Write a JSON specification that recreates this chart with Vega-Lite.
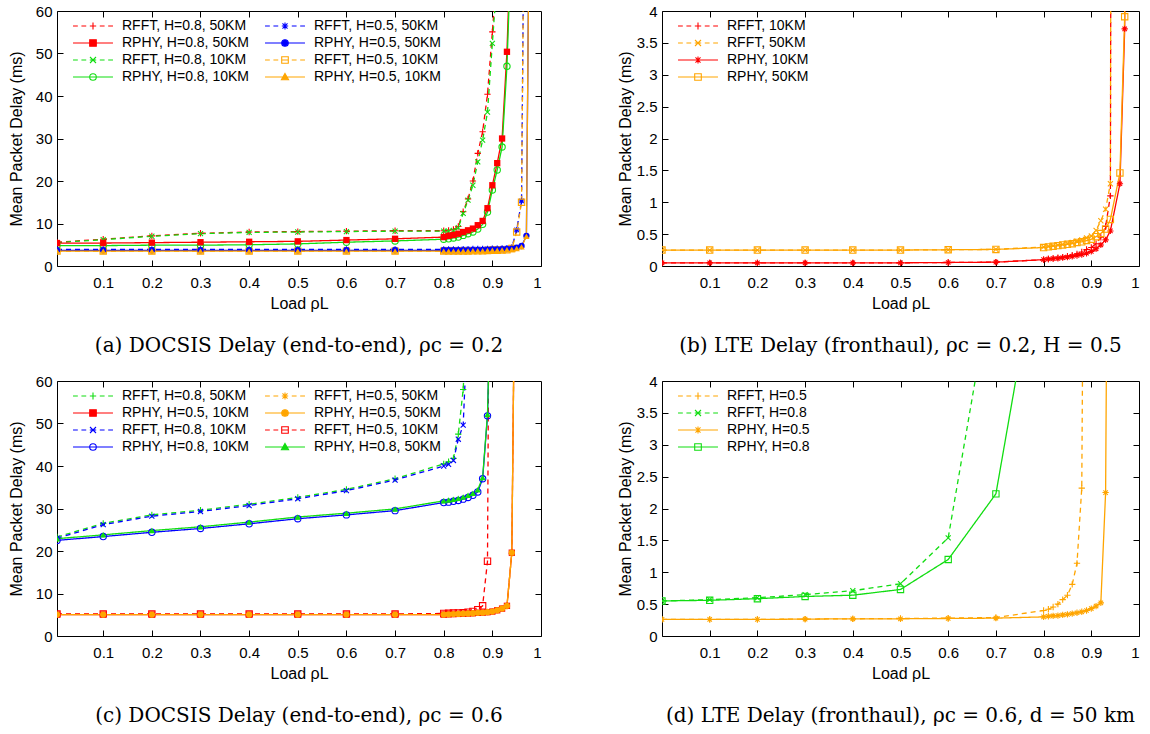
{
"$schema": "https://vega.github.io/schema/vega-lite/v6.json",
"background": "white",
"padding": {"left": 7, "top": 3, "right": 5, "bottom": 5},
"columns": 2,
"spacing": {"row": 115, "column": 121},
"bounds": "flush",
"resolve": {"scale": {"color": "independent", "shape": "independent", "strokeDash": "independent", "stroke": "independent", "fill": "independent"}, "legend": {"color": "independent", "shape": "independent", "strokeDash": "independent", "stroke": "independent", "fill": "independent"}},
"config": {
  "view": {"stroke": "#000000", "strokeWidth": 1},
  "axis": {"grid": false, "domain": false, "ticks": true, "tickColor": "#000000", "tickSize": -6, "tickWidth": 1, "labelFont": "Liberation Sans", "labelFontSize": 15, "labelColor": "#000000", "titleFont": "Liberation Sans", "titleFontSize": 16, "titleFontWeight": "normal", "titleColor": "#000000"},
  "axisX": {"titlePadding": 5, "labelPadding": 15},
  "axisY": {"titlePadding": 11, "labelPadding": 11},
  "title": {"font": "DejaVu Serif", "fontSize": 20, "fontWeight": "normal", "color": "#000000", "orient": "bottom", "anchor": "middle", "frame": "group", "offset": 25},
  "legend": {"labelFont": "Liberation Sans", "labelFontSize": 14, "labelColor": "#000000", "symbolOpacity": 1},
  "point": {"size": 40, "strokeWidth": 1.1, "opacity": 1},
  "line": {"strokeWidth": 1.3}
},
"datasets": {
"A": [
{"s":"RFFT, H=0.8, 50KM","x":0.005,"y":5.6},{"s":"RFFT, H=0.8, 50KM","x":0.1,"y":6.3},{"s":"RFFT, H=0.8, 50KM","x":0.2,"y":7.1},{"s":"RFFT, H=0.8, 50KM","x":0.3,"y":7.7},{"s":"RFFT, H=0.8, 50KM","x":0.4,"y":8.0},{"s":"RFFT, H=0.8, 50KM","x":0.5,"y":8.1},{"s":"RFFT, H=0.8, 50KM","x":0.6,"y":8.2},{"s":"RFFT, H=0.8, 50KM","x":0.7,"y":8.3},{"s":"RFFT, H=0.8, 50KM","x":0.8,"y":8.3},{"s":"RFFT, H=0.8, 50KM","x":0.81,"y":8.4},{"s":"RFFT, H=0.8, 50KM","x":0.82,"y":8.6},{"s":"RFFT, H=0.8, 50KM","x":0.83,"y":9.3},{"s":"RFFT, H=0.8, 50KM","x":0.84,"y":12.8},{"s":"RFFT, H=0.8, 50KM","x":0.85,"y":15.8},{"s":"RFFT, H=0.8, 50KM","x":0.86,"y":20.0},{"s":"RFFT, H=0.8, 50KM","x":0.87,"y":26.5},{"s":"RFFT, H=0.8, 50KM","x":0.88,"y":31.6},{"s":"RFFT, H=0.8, 50KM","x":0.89,"y":40.4},{"s":"RFFT, H=0.8, 50KM","x":0.9,"y":55.1},{"s":"RFFT, H=0.8, 50KM","x":0.91,"y":70},
{"s":"RFFT, H=0.8, 10KM","x":0.005,"y":5.5},{"s":"RFFT, H=0.8, 10KM","x":0.1,"y":6.2},{"s":"RFFT, H=0.8, 10KM","x":0.2,"y":7.0},{"s":"RFFT, H=0.8, 10KM","x":0.3,"y":7.6},{"s":"RFFT, H=0.8, 10KM","x":0.4,"y":7.9},{"s":"RFFT, H=0.8, 10KM","x":0.5,"y":8.0},{"s":"RFFT, H=0.8, 10KM","x":0.6,"y":8.1},{"s":"RFFT, H=0.8, 10KM","x":0.7,"y":8.2},{"s":"RFFT, H=0.8, 10KM","x":0.8,"y":8.2},{"s":"RFFT, H=0.8, 10KM","x":0.81,"y":8.2},{"s":"RFFT, H=0.8, 10KM","x":0.82,"y":8.4},{"s":"RFFT, H=0.8, 10KM","x":0.83,"y":9.0},{"s":"RFFT, H=0.8, 10KM","x":0.84,"y":12.4},{"s":"RFFT, H=0.8, 10KM","x":0.85,"y":15.5},{"s":"RFFT, H=0.8, 10KM","x":0.86,"y":19.0},{"s":"RFFT, H=0.8, 10KM","x":0.87,"y":24.5},{"s":"RFFT, H=0.8, 10KM","x":0.88,"y":29.6},{"s":"RFFT, H=0.8, 10KM","x":0.89,"y":36.2},{"s":"RFFT, H=0.8, 10KM","x":0.9,"y":52.4},{"s":"RFFT, H=0.8, 10KM","x":0.91,"y":68},
{"s":"RFFT, H=0.5, 50KM","x":0.005,"y":3.9},{"s":"RFFT, H=0.5, 50KM","x":0.1,"y":3.9},{"s":"RFFT, H=0.5, 50KM","x":0.2,"y":3.9},{"s":"RFFT, H=0.5, 50KM","x":0.3,"y":3.9},{"s":"RFFT, H=0.5, 50KM","x":0.4,"y":3.9},{"s":"RFFT, H=0.5, 50KM","x":0.5,"y":3.9},{"s":"RFFT, H=0.5, 50KM","x":0.6,"y":3.9},{"s":"RFFT, H=0.5, 50KM","x":0.7,"y":3.9},{"s":"RFFT, H=0.5, 50KM","x":0.8,"y":3.9},{"s":"RFFT, H=0.5, 50KM","x":0.81,"y":3.9},{"s":"RFFT, H=0.5, 50KM","x":0.82,"y":3.9},{"s":"RFFT, H=0.5, 50KM","x":0.83,"y":3.9},{"s":"RFFT, H=0.5, 50KM","x":0.84,"y":3.95},{"s":"RFFT, H=0.5, 50KM","x":0.85,"y":3.95},{"s":"RFFT, H=0.5, 50KM","x":0.86,"y":4.0},{"s":"RFFT, H=0.5, 50KM","x":0.87,"y":4.0},{"s":"RFFT, H=0.5, 50KM","x":0.88,"y":4.0},{"s":"RFFT, H=0.5, 50KM","x":0.89,"y":4.05},{"s":"RFFT, H=0.5, 50KM","x":0.9,"y":4.1},{"s":"RFFT, H=0.5, 50KM","x":0.91,"y":4.1},{"s":"RFFT, H=0.5, 50KM","x":0.92,"y":4.15},{"s":"RFFT, H=0.5, 50KM","x":0.93,"y":4.2},{"s":"RFFT, H=0.5, 50KM","x":0.94,"y":4.4},{"s":"RFFT, H=0.5, 50KM","x":0.95,"y":8.5},{"s":"RFFT, H=0.5, 50KM","x":0.96,"y":15.3},{"s":"RFFT, H=0.5, 50KM","x":0.97,"y":150},
{"s":"RFFT, H=0.5, 10KM","x":0.005,"y":3.5},{"s":"RFFT, H=0.5, 10KM","x":0.1,"y":3.5},{"s":"RFFT, H=0.5, 10KM","x":0.2,"y":3.5},{"s":"RFFT, H=0.5, 10KM","x":0.3,"y":3.5},{"s":"RFFT, H=0.5, 10KM","x":0.4,"y":3.5},{"s":"RFFT, H=0.5, 10KM","x":0.5,"y":3.5},{"s":"RFFT, H=0.5, 10KM","x":0.6,"y":3.5},{"s":"RFFT, H=0.5, 10KM","x":0.7,"y":3.5},{"s":"RFFT, H=0.5, 10KM","x":0.8,"y":3.5},{"s":"RFFT, H=0.5, 10KM","x":0.81,"y":3.5},{"s":"RFFT, H=0.5, 10KM","x":0.82,"y":3.5},{"s":"RFFT, H=0.5, 10KM","x":0.83,"y":3.5},{"s":"RFFT, H=0.5, 10KM","x":0.84,"y":3.55},{"s":"RFFT, H=0.5, 10KM","x":0.85,"y":3.55},{"s":"RFFT, H=0.5, 10KM","x":0.86,"y":3.6},{"s":"RFFT, H=0.5, 10KM","x":0.87,"y":3.6},{"s":"RFFT, H=0.5, 10KM","x":0.88,"y":3.6},{"s":"RFFT, H=0.5, 10KM","x":0.89,"y":3.65},{"s":"RFFT, H=0.5, 10KM","x":0.9,"y":3.7},{"s":"RFFT, H=0.5, 10KM","x":0.91,"y":3.7},{"s":"RFFT, H=0.5, 10KM","x":0.92,"y":3.75},{"s":"RFFT, H=0.5, 10KM","x":0.93,"y":3.8},{"s":"RFFT, H=0.5, 10KM","x":0.94,"y":4.1},{"s":"RFFT, H=0.5, 10KM","x":0.95,"y":8.0},{"s":"RFFT, H=0.5, 10KM","x":0.96,"y":15.0},{"s":"RFFT, H=0.5, 10KM","x":0.97,"y":150},
{"s":"RPHY, H=0.8, 50KM","x":0.005,"y":5.4},{"s":"RPHY, H=0.8, 50KM","x":0.1,"y":5.4},{"s":"RPHY, H=0.8, 50KM","x":0.2,"y":5.5},{"s":"RPHY, H=0.8, 50KM","x":0.3,"y":5.6},{"s":"RPHY, H=0.8, 50KM","x":0.4,"y":5.7},{"s":"RPHY, H=0.8, 50KM","x":0.5,"y":5.8},{"s":"RPHY, H=0.8, 50KM","x":0.6,"y":6.1},{"s":"RPHY, H=0.8, 50KM","x":0.7,"y":6.4},{"s":"RPHY, H=0.8, 50KM","x":0.8,"y":6.8},{"s":"RPHY, H=0.8, 50KM","x":0.81,"y":7.1},{"s":"RPHY, H=0.8, 50KM","x":0.82,"y":7.3},{"s":"RPHY, H=0.8, 50KM","x":0.83,"y":7.6},{"s":"RPHY, H=0.8, 50KM","x":0.84,"y":8.0},{"s":"RPHY, H=0.8, 50KM","x":0.85,"y":8.4},{"s":"RPHY, H=0.8, 50KM","x":0.86,"y":8.8},{"s":"RPHY, H=0.8, 50KM","x":0.87,"y":9.6},{"s":"RPHY, H=0.8, 50KM","x":0.88,"y":10.6},{"s":"RPHY, H=0.8, 50KM","x":0.89,"y":13.6},{"s":"RPHY, H=0.8, 50KM","x":0.9,"y":19.0},{"s":"RPHY, H=0.8, 50KM","x":0.91,"y":24.2},{"s":"RPHY, H=0.8, 50KM","x":0.92,"y":30.0},{"s":"RPHY, H=0.8, 50KM","x":0.93,"y":50.4},{"s":"RPHY, H=0.8, 50KM","x":0.94,"y":85},
{"s":"RPHY, H=0.8, 10KM","x":0.005,"y":4.8},{"s":"RPHY, H=0.8, 10KM","x":0.1,"y":4.8},{"s":"RPHY, H=0.8, 10KM","x":0.2,"y":4.9},{"s":"RPHY, H=0.8, 10KM","x":0.3,"y":4.9},{"s":"RPHY, H=0.8, 10KM","x":0.4,"y":5.0},{"s":"RPHY, H=0.8, 10KM","x":0.5,"y":5.2},{"s":"RPHY, H=0.8, 10KM","x":0.6,"y":5.6},{"s":"RPHY, H=0.8, 10KM","x":0.7,"y":5.9},{"s":"RPHY, H=0.8, 10KM","x":0.8,"y":6.3},{"s":"RPHY, H=0.8, 10KM","x":0.81,"y":6.4},{"s":"RPHY, H=0.8, 10KM","x":0.82,"y":6.6},{"s":"RPHY, H=0.8, 10KM","x":0.83,"y":6.8},{"s":"RPHY, H=0.8, 10KM","x":0.84,"y":7.2},{"s":"RPHY, H=0.8, 10KM","x":0.85,"y":7.6},{"s":"RPHY, H=0.8, 10KM","x":0.86,"y":8.0},{"s":"RPHY, H=0.8, 10KM","x":0.87,"y":8.7},{"s":"RPHY, H=0.8, 10KM","x":0.88,"y":9.8},{"s":"RPHY, H=0.8, 10KM","x":0.89,"y":12.7},{"s":"RPHY, H=0.8, 10KM","x":0.9,"y":17.9},{"s":"RPHY, H=0.8, 10KM","x":0.91,"y":22.6},{"s":"RPHY, H=0.8, 10KM","x":0.92,"y":28.0},{"s":"RPHY, H=0.8, 10KM","x":0.93,"y":47.0},{"s":"RPHY, H=0.8, 10KM","x":0.94,"y":80},
{"s":"RPHY, H=0.5, 50KM","x":0.005,"y":3.7},{"s":"RPHY, H=0.5, 50KM","x":0.1,"y":3.7},{"s":"RPHY, H=0.5, 50KM","x":0.2,"y":3.7},{"s":"RPHY, H=0.5, 50KM","x":0.3,"y":3.7},{"s":"RPHY, H=0.5, 50KM","x":0.4,"y":3.7},{"s":"RPHY, H=0.5, 50KM","x":0.5,"y":3.7},{"s":"RPHY, H=0.5, 50KM","x":0.6,"y":3.7},{"s":"RPHY, H=0.5, 50KM","x":0.7,"y":3.7},{"s":"RPHY, H=0.5, 50KM","x":0.8,"y":3.7},{"s":"RPHY, H=0.5, 50KM","x":0.81,"y":3.7},{"s":"RPHY, H=0.5, 50KM","x":0.82,"y":3.7},{"s":"RPHY, H=0.5, 50KM","x":0.83,"y":3.7},{"s":"RPHY, H=0.5, 50KM","x":0.84,"y":3.75},{"s":"RPHY, H=0.5, 50KM","x":0.85,"y":3.75},{"s":"RPHY, H=0.5, 50KM","x":0.86,"y":3.8},{"s":"RPHY, H=0.5, 50KM","x":0.87,"y":3.8},{"s":"RPHY, H=0.5, 50KM","x":0.88,"y":3.8},{"s":"RPHY, H=0.5, 50KM","x":0.89,"y":3.85},{"s":"RPHY, H=0.5, 50KM","x":0.9,"y":3.9},{"s":"RPHY, H=0.5, 50KM","x":0.91,"y":3.9},{"s":"RPHY, H=0.5, 50KM","x":0.92,"y":3.95},{"s":"RPHY, H=0.5, 50KM","x":0.93,"y":4.0},{"s":"RPHY, H=0.5, 50KM","x":0.94,"y":4.1},{"s":"RPHY, H=0.5, 50KM","x":0.95,"y":4.3},{"s":"RPHY, H=0.5, 50KM","x":0.96,"y":4.7},{"s":"RPHY, H=0.5, 50KM","x":0.97,"y":7.1},{"s":"RPHY, H=0.5, 50KM","x":0.98,"y":140},
{"s":"RPHY, H=0.5, 10KM","x":0.005,"y":3.5},{"s":"RPHY, H=0.5, 10KM","x":0.1,"y":3.5},{"s":"RPHY, H=0.5, 10KM","x":0.2,"y":3.5},{"s":"RPHY, H=0.5, 10KM","x":0.3,"y":3.5},{"s":"RPHY, H=0.5, 10KM","x":0.4,"y":3.5},{"s":"RPHY, H=0.5, 10KM","x":0.5,"y":3.5},{"s":"RPHY, H=0.5, 10KM","x":0.6,"y":3.5},{"s":"RPHY, H=0.5, 10KM","x":0.7,"y":3.5},{"s":"RPHY, H=0.5, 10KM","x":0.8,"y":3.5},{"s":"RPHY, H=0.5, 10KM","x":0.81,"y":3.5},{"s":"RPHY, H=0.5, 10KM","x":0.82,"y":3.5},{"s":"RPHY, H=0.5, 10KM","x":0.83,"y":3.5},{"s":"RPHY, H=0.5, 10KM","x":0.84,"y":3.55},{"s":"RPHY, H=0.5, 10KM","x":0.85,"y":3.55},{"s":"RPHY, H=0.5, 10KM","x":0.86,"y":3.6},{"s":"RPHY, H=0.5, 10KM","x":0.87,"y":3.6},{"s":"RPHY, H=0.5, 10KM","x":0.88,"y":3.6},{"s":"RPHY, H=0.5, 10KM","x":0.89,"y":3.65},{"s":"RPHY, H=0.5, 10KM","x":0.9,"y":3.7},{"s":"RPHY, H=0.5, 10KM","x":0.91,"y":3.7},{"s":"RPHY, H=0.5, 10KM","x":0.92,"y":3.75},{"s":"RPHY, H=0.5, 10KM","x":0.93,"y":3.8},{"s":"RPHY, H=0.5, 10KM","x":0.94,"y":3.9},{"s":"RPHY, H=0.5, 10KM","x":0.95,"y":4.1},{"s":"RPHY, H=0.5, 10KM","x":0.96,"y":4.5},{"s":"RPHY, H=0.5, 10KM","x":0.97,"y":7.0},{"s":"RPHY, H=0.5, 10KM","x":0.98,"y":140}
],
"B": [
{"s":"RFFT, 10KM","x":0,"y":0.05},{"s":"RFFT, 10KM","x":0.1,"y":0.05},{"s":"RFFT, 10KM","x":0.2,"y":0.05},{"s":"RFFT, 10KM","x":0.3,"y":0.05},{"s":"RFFT, 10KM","x":0.4,"y":0.05},{"s":"RFFT, 10KM","x":0.5,"y":0.05},{"s":"RFFT, 10KM","x":0.6,"y":0.055},{"s":"RFFT, 10KM","x":0.7,"y":0.06},{"s":"RFFT, 10KM","x":0.8,"y":0.1},{"s":"RFFT, 10KM","x":0.81,"y":0.11},{"s":"RFFT, 10KM","x":0.82,"y":0.12},{"s":"RFFT, 10KM","x":0.83,"y":0.13},{"s":"RFFT, 10KM","x":0.84,"y":0.14},{"s":"RFFT, 10KM","x":0.85,"y":0.155},{"s":"RFFT, 10KM","x":0.86,"y":0.17},{"s":"RFFT, 10KM","x":0.87,"y":0.19},{"s":"RFFT, 10KM","x":0.88,"y":0.22},{"s":"RFFT, 10KM","x":0.89,"y":0.26},{"s":"RFFT, 10KM","x":0.9,"y":0.29},{"s":"RFFT, 10KM","x":0.91,"y":0.35},{"s":"RFFT, 10KM","x":0.92,"y":0.45},{"s":"RFFT, 10KM","x":0.93,"y":0.62},{"s":"RFFT, 10KM","x":0.94,"y":1.1},{"s":"RFFT, 10KM","x":0.95,"y":40},
{"s":"RFFT, 50KM","x":0,"y":0.25},{"s":"RFFT, 50KM","x":0.1,"y":0.25},{"s":"RFFT, 50KM","x":0.2,"y":0.25},{"s":"RFFT, 50KM","x":0.3,"y":0.25},{"s":"RFFT, 50KM","x":0.4,"y":0.25},{"s":"RFFT, 50KM","x":0.5,"y":0.25},{"s":"RFFT, 50KM","x":0.6,"y":0.255},{"s":"RFFT, 50KM","x":0.7,"y":0.26},{"s":"RFFT, 50KM","x":0.8,"y":0.3},{"s":"RFFT, 50KM","x":0.81,"y":0.31},{"s":"RFFT, 50KM","x":0.82,"y":0.32},{"s":"RFFT, 50KM","x":0.83,"y":0.33},{"s":"RFFT, 50KM","x":0.84,"y":0.34},{"s":"RFFT, 50KM","x":0.85,"y":0.355},{"s":"RFFT, 50KM","x":0.86,"y":0.37},{"s":"RFFT, 50KM","x":0.87,"y":0.39},{"s":"RFFT, 50KM","x":0.88,"y":0.41},{"s":"RFFT, 50KM","x":0.89,"y":0.44},{"s":"RFFT, 50KM","x":0.9,"y":0.47},{"s":"RFFT, 50KM","x":0.91,"y":0.56},{"s":"RFFT, 50KM","x":0.92,"y":0.71},{"s":"RFFT, 50KM","x":0.93,"y":0.89},{"s":"RFFT, 50KM","x":0.94,"y":1.29},{"s":"RFFT, 50KM","x":0.95,"y":40},
{"s":"RPHY, 10KM","x":0,"y":0.05},{"s":"RPHY, 10KM","x":0.1,"y":0.05},{"s":"RPHY, 10KM","x":0.2,"y":0.05},{"s":"RPHY, 10KM","x":0.3,"y":0.05},{"s":"RPHY, 10KM","x":0.4,"y":0.05},{"s":"RPHY, 10KM","x":0.5,"y":0.05},{"s":"RPHY, 10KM","x":0.6,"y":0.055},{"s":"RPHY, 10KM","x":0.7,"y":0.06},{"s":"RPHY, 10KM","x":0.8,"y":0.1},{"s":"RPHY, 10KM","x":0.81,"y":0.11},{"s":"RPHY, 10KM","x":0.82,"y":0.115},{"s":"RPHY, 10KM","x":0.83,"y":0.12},{"s":"RPHY, 10KM","x":0.84,"y":0.13},{"s":"RPHY, 10KM","x":0.85,"y":0.14},{"s":"RPHY, 10KM","x":0.86,"y":0.15},{"s":"RPHY, 10KM","x":0.87,"y":0.165},{"s":"RPHY, 10KM","x":0.88,"y":0.18},{"s":"RPHY, 10KM","x":0.89,"y":0.2},{"s":"RPHY, 10KM","x":0.9,"y":0.23},{"s":"RPHY, 10KM","x":0.91,"y":0.27},{"s":"RPHY, 10KM","x":0.92,"y":0.33},{"s":"RPHY, 10KM","x":0.93,"y":0.41},{"s":"RPHY, 10KM","x":0.94,"y":0.55},{"s":"RPHY, 10KM","x":0.96,"y":1.29},{"s":"RPHY, 10KM","x":0.97,"y":3.72},{"s":"RPHY, 10KM","x":0.98,"y":40},
{"s":"RPHY, 50KM","x":0,"y":0.25},{"s":"RPHY, 50KM","x":0.1,"y":0.25},{"s":"RPHY, 50KM","x":0.2,"y":0.25},{"s":"RPHY, 50KM","x":0.3,"y":0.25},{"s":"RPHY, 50KM","x":0.4,"y":0.25},{"s":"RPHY, 50KM","x":0.5,"y":0.25},{"s":"RPHY, 50KM","x":0.6,"y":0.255},{"s":"RPHY, 50KM","x":0.7,"y":0.26},{"s":"RPHY, 50KM","x":0.8,"y":0.29},{"s":"RPHY, 50KM","x":0.81,"y":0.3},{"s":"RPHY, 50KM","x":0.82,"y":0.31},{"s":"RPHY, 50KM","x":0.83,"y":0.32},{"s":"RPHY, 50KM","x":0.84,"y":0.33},{"s":"RPHY, 50KM","x":0.85,"y":0.34},{"s":"RPHY, 50KM","x":0.86,"y":0.35},{"s":"RPHY, 50KM","x":0.87,"y":0.37},{"s":"RPHY, 50KM","x":0.88,"y":0.38},{"s":"RPHY, 50KM","x":0.89,"y":0.4},{"s":"RPHY, 50KM","x":0.9,"y":0.42},{"s":"RPHY, 50KM","x":0.91,"y":0.46},{"s":"RPHY, 50KM","x":0.92,"y":0.51},{"s":"RPHY, 50KM","x":0.93,"y":0.58},{"s":"RPHY, 50KM","x":0.94,"y":0.73},{"s":"RPHY, 50KM","x":0.96,"y":1.46},{"s":"RPHY, 50KM","x":0.97,"y":3.91},{"s":"RPHY, 50KM","x":0.98,"y":40}
],
"C": [
{"s":"RFFT, H=0.8, 50KM","x":0.005,"y":23.3},{"s":"RFFT, H=0.8, 50KM","x":0.1,"y":26.5},{"s":"RFFT, H=0.8, 50KM","x":0.2,"y":28.5},{"s":"RFFT, H=0.8, 50KM","x":0.3,"y":29.6},{"s":"RFFT, H=0.8, 50KM","x":0.4,"y":31.0},{"s":"RFFT, H=0.8, 50KM","x":0.5,"y":32.6},{"s":"RFFT, H=0.8, 50KM","x":0.6,"y":34.5},{"s":"RFFT, H=0.8, 50KM","x":0.7,"y":37.0},{"s":"RFFT, H=0.8, 50KM","x":0.8,"y":40.5},{"s":"RFFT, H=0.8, 50KM","x":0.81,"y":41.0},{"s":"RFFT, H=0.8, 50KM","x":0.82,"y":41.8},{"s":"RFFT, H=0.8, 50KM","x":0.83,"y":47.5},{"s":"RFFT, H=0.8, 50KM","x":0.84,"y":58.0},{"s":"RFFT, H=0.8, 50KM","x":0.85,"y":80},
{"s":"RFFT, H=0.8, 10KM","x":0.005,"y":23.0},{"s":"RFFT, H=0.8, 10KM","x":0.1,"y":26.2},{"s":"RFFT, H=0.8, 10KM","x":0.2,"y":28.2},{"s":"RFFT, H=0.8, 10KM","x":0.3,"y":29.3},{"s":"RFFT, H=0.8, 10KM","x":0.4,"y":30.7},{"s":"RFFT, H=0.8, 10KM","x":0.5,"y":32.3},{"s":"RFFT, H=0.8, 10KM","x":0.6,"y":34.2},{"s":"RFFT, H=0.8, 10KM","x":0.7,"y":36.7},{"s":"RFFT, H=0.8, 10KM","x":0.8,"y":40.0},{"s":"RFFT, H=0.8, 10KM","x":0.81,"y":40.4},{"s":"RFFT, H=0.8, 10KM","x":0.82,"y":41.3},{"s":"RFFT, H=0.8, 10KM","x":0.83,"y":46.3},{"s":"RFFT, H=0.8, 10KM","x":0.84,"y":49.6},{"s":"RFFT, H=0.8, 10KM","x":0.85,"y":76},
{"s":"RFFT, H=0.5, 50KM","x":0.005,"y":5.1},{"s":"RFFT, H=0.5, 50KM","x":0.1,"y":5.1},{"s":"RFFT, H=0.5, 50KM","x":0.2,"y":5.1},{"s":"RFFT, H=0.5, 50KM","x":0.3,"y":5.1},{"s":"RFFT, H=0.5, 50KM","x":0.4,"y":5.1},{"s":"RFFT, H=0.5, 50KM","x":0.5,"y":5.1},{"s":"RFFT, H=0.5, 50KM","x":0.6,"y":5.1},{"s":"RFFT, H=0.5, 50KM","x":0.7,"y":5.1},{"s":"RFFT, H=0.5, 50KM","x":0.8,"y":5.1},{"s":"RFFT, H=0.5, 50KM","x":0.81,"y":5.15},{"s":"RFFT, H=0.5, 50KM","x":0.82,"y":5.2},{"s":"RFFT, H=0.5, 50KM","x":0.83,"y":5.25},{"s":"RFFT, H=0.5, 50KM","x":0.84,"y":5.3},{"s":"RFFT, H=0.5, 50KM","x":0.85,"y":5.35},{"s":"RFFT, H=0.5, 50KM","x":0.86,"y":5.4},{"s":"RFFT, H=0.5, 50KM","x":0.87,"y":5.5},{"s":"RFFT, H=0.5, 50KM","x":0.88,"y":5.55},{"s":"RFFT, H=0.5, 50KM","x":0.89,"y":5.65},{"s":"RFFT, H=0.5, 50KM","x":0.9,"y":5.8},{"s":"RFFT, H=0.5, 50KM","x":0.91,"y":6.1},{"s":"RFFT, H=0.5, 50KM","x":0.92,"y":6.5},{"s":"RFFT, H=0.5, 50KM","x":0.93,"y":7.0},{"s":"RFFT, H=0.5, 50KM","x":0.94,"y":19.4},{"s":"RFFT, H=0.5, 50KM","x":0.95,"y":130},
{"s":"RFFT, H=0.5, 10KM","x":0.005,"y":5.2},{"s":"RFFT, H=0.5, 10KM","x":0.1,"y":5.2},{"s":"RFFT, H=0.5, 10KM","x":0.2,"y":5.2},{"s":"RFFT, H=0.5, 10KM","x":0.3,"y":5.2},{"s":"RFFT, H=0.5, 10KM","x":0.4,"y":5.2},{"s":"RFFT, H=0.5, 10KM","x":0.5,"y":5.2},{"s":"RFFT, H=0.5, 10KM","x":0.6,"y":5.2},{"s":"RFFT, H=0.5, 10KM","x":0.7,"y":5.2},{"s":"RFFT, H=0.5, 10KM","x":0.8,"y":5.3},{"s":"RFFT, H=0.5, 10KM","x":0.81,"y":5.35},{"s":"RFFT, H=0.5, 10KM","x":0.82,"y":5.4},{"s":"RFFT, H=0.5, 10KM","x":0.83,"y":5.45},{"s":"RFFT, H=0.5, 10KM","x":0.84,"y":5.5},{"s":"RFFT, H=0.5, 10KM","x":0.85,"y":5.6},{"s":"RFFT, H=0.5, 10KM","x":0.86,"y":5.8},{"s":"RFFT, H=0.5, 10KM","x":0.87,"y":6.2},{"s":"RFFT, H=0.5, 10KM","x":0.88,"y":7.1},{"s":"RFFT, H=0.5, 10KM","x":0.89,"y":17.6},{"s":"RFFT, H=0.5, 10KM","x":0.9,"y":230},
{"s":"RPHY, H=0.5, 10KM","x":0.005,"y":5.05},{"s":"RPHY, H=0.5, 10KM","x":0.1,"y":5.05},{"s":"RPHY, H=0.5, 10KM","x":0.2,"y":5.05},{"s":"RPHY, H=0.5, 10KM","x":0.3,"y":5.05},{"s":"RPHY, H=0.5, 10KM","x":0.4,"y":5.05},{"s":"RPHY, H=0.5, 10KM","x":0.5,"y":5.05},{"s":"RPHY, H=0.5, 10KM","x":0.6,"y":5.05},{"s":"RPHY, H=0.5, 10KM","x":0.7,"y":5.05},{"s":"RPHY, H=0.5, 10KM","x":0.8,"y":5.05},{"s":"RPHY, H=0.5, 10KM","x":0.81,"y":5.1},{"s":"RPHY, H=0.5, 10KM","x":0.82,"y":5.15},{"s":"RPHY, H=0.5, 10KM","x":0.83,"y":5.2},{"s":"RPHY, H=0.5, 10KM","x":0.84,"y":5.25},{"s":"RPHY, H=0.5, 10KM","x":0.85,"y":5.3},{"s":"RPHY, H=0.5, 10KM","x":0.86,"y":5.35},{"s":"RPHY, H=0.5, 10KM","x":0.87,"y":5.45},{"s":"RPHY, H=0.5, 10KM","x":0.88,"y":5.5},{"s":"RPHY, H=0.5, 10KM","x":0.89,"y":5.6},{"s":"RPHY, H=0.5, 10KM","x":0.9,"y":5.75},{"s":"RPHY, H=0.5, 10KM","x":0.91,"y":6.05},{"s":"RPHY, H=0.5, 10KM","x":0.92,"y":6.45},{"s":"RPHY, H=0.5, 10KM","x":0.93,"y":7.1},{"s":"RPHY, H=0.5, 10KM","x":0.94,"y":19.6},{"s":"RPHY, H=0.5, 10KM","x":0.95,"y":130},
{"s":"RPHY, H=0.8, 10KM","x":0.005,"y":22.5},{"s":"RPHY, H=0.8, 10KM","x":0.1,"y":23.4},{"s":"RPHY, H=0.8, 10KM","x":0.2,"y":24.4},{"s":"RPHY, H=0.8, 10KM","x":0.3,"y":25.3},{"s":"RPHY, H=0.8, 10KM","x":0.4,"y":26.4},{"s":"RPHY, H=0.8, 10KM","x":0.5,"y":27.6},{"s":"RPHY, H=0.8, 10KM","x":0.6,"y":28.5},{"s":"RPHY, H=0.8, 10KM","x":0.7,"y":29.5},{"s":"RPHY, H=0.8, 10KM","x":0.8,"y":31.4},{"s":"RPHY, H=0.8, 10KM","x":0.81,"y":31.5},{"s":"RPHY, H=0.8, 10KM","x":0.82,"y":31.7},{"s":"RPHY, H=0.8, 10KM","x":0.83,"y":31.9},{"s":"RPHY, H=0.8, 10KM","x":0.84,"y":32.2},{"s":"RPHY, H=0.8, 10KM","x":0.85,"y":32.6},{"s":"RPHY, H=0.8, 10KM","x":0.86,"y":33.1},{"s":"RPHY, H=0.8, 10KM","x":0.87,"y":33.9},{"s":"RPHY, H=0.8, 10KM","x":0.88,"y":37.0},{"s":"RPHY, H=0.8, 10KM","x":0.89,"y":51.8},{"s":"RPHY, H=0.8, 10KM","x":0.9,"y":95},
{"s":"RPHY, H=0.5, 50KM","x":0.005,"y":5.05},{"s":"RPHY, H=0.5, 50KM","x":0.1,"y":5.05},{"s":"RPHY, H=0.5, 50KM","x":0.2,"y":5.05},{"s":"RPHY, H=0.5, 50KM","x":0.3,"y":5.05},{"s":"RPHY, H=0.5, 50KM","x":0.4,"y":5.05},{"s":"RPHY, H=0.5, 50KM","x":0.5,"y":5.05},{"s":"RPHY, H=0.5, 50KM","x":0.6,"y":5.05},{"s":"RPHY, H=0.5, 50KM","x":0.7,"y":5.05},{"s":"RPHY, H=0.5, 50KM","x":0.8,"y":5.05},{"s":"RPHY, H=0.5, 50KM","x":0.81,"y":5.1},{"s":"RPHY, H=0.5, 50KM","x":0.82,"y":5.15},{"s":"RPHY, H=0.5, 50KM","x":0.83,"y":5.2},{"s":"RPHY, H=0.5, 50KM","x":0.84,"y":5.25},{"s":"RPHY, H=0.5, 50KM","x":0.85,"y":5.3},{"s":"RPHY, H=0.5, 50KM","x":0.86,"y":5.35},{"s":"RPHY, H=0.5, 50KM","x":0.87,"y":5.45},{"s":"RPHY, H=0.5, 50KM","x":0.88,"y":5.5},{"s":"RPHY, H=0.5, 50KM","x":0.89,"y":5.6},{"s":"RPHY, H=0.5, 50KM","x":0.9,"y":5.75},{"s":"RPHY, H=0.5, 50KM","x":0.91,"y":6.05},{"s":"RPHY, H=0.5, 50KM","x":0.92,"y":6.45},{"s":"RPHY, H=0.5, 50KM","x":0.93,"y":7.1},{"s":"RPHY, H=0.5, 50KM","x":0.94,"y":19.6},{"s":"RPHY, H=0.5, 50KM","x":0.95,"y":130},
{"s":"RPHY, H=0.8, 50KM","x":0.005,"y":22.9},{"s":"RPHY, H=0.8, 50KM","x":0.1,"y":23.8},{"s":"RPHY, H=0.8, 50KM","x":0.2,"y":24.8},{"s":"RPHY, H=0.8, 50KM","x":0.3,"y":25.7},{"s":"RPHY, H=0.8, 50KM","x":0.4,"y":26.8},{"s":"RPHY, H=0.8, 50KM","x":0.5,"y":28.0},{"s":"RPHY, H=0.8, 50KM","x":0.6,"y":28.9},{"s":"RPHY, H=0.8, 50KM","x":0.7,"y":29.9},{"s":"RPHY, H=0.8, 50KM","x":0.8,"y":31.8},{"s":"RPHY, H=0.8, 50KM","x":0.81,"y":32.0},{"s":"RPHY, H=0.8, 50KM","x":0.82,"y":32.2},{"s":"RPHY, H=0.8, 50KM","x":0.83,"y":32.4},{"s":"RPHY, H=0.8, 50KM","x":0.84,"y":32.7},{"s":"RPHY, H=0.8, 50KM","x":0.85,"y":33.1},{"s":"RPHY, H=0.8, 50KM","x":0.86,"y":33.6},{"s":"RPHY, H=0.8, 50KM","x":0.87,"y":34.4},{"s":"RPHY, H=0.8, 50KM","x":0.88,"y":37.3},{"s":"RPHY, H=0.8, 50KM","x":0.89,"y":52.2},{"s":"RPHY, H=0.8, 50KM","x":0.9,"y":95}
],
"D": [
{"s":"RFFT, H=0.5","x":0,"y":0.26},{"s":"RFFT, H=0.5","x":0.1,"y":0.26},{"s":"RFFT, H=0.5","x":0.2,"y":0.26},{"s":"RFFT, H=0.5","x":0.3,"y":0.265},{"s":"RFFT, H=0.5","x":0.4,"y":0.27},{"s":"RFFT, H=0.5","x":0.5,"y":0.275},{"s":"RFFT, H=0.5","x":0.6,"y":0.28},{"s":"RFFT, H=0.5","x":0.7,"y":0.29},{"s":"RFFT, H=0.5","x":0.8,"y":0.4},{"s":"RFFT, H=0.5","x":0.81,"y":0.42},{"s":"RFFT, H=0.5","x":0.82,"y":0.455},{"s":"RFFT, H=0.5","x":0.83,"y":0.5},{"s":"RFFT, H=0.5","x":0.84,"y":0.57},{"s":"RFFT, H=0.5","x":0.85,"y":0.64},{"s":"RFFT, H=0.5","x":0.86,"y":0.81},{"s":"RFFT, H=0.5","x":0.87,"y":1.14},{"s":"RFFT, H=0.5","x":0.88,"y":2.32},{"s":"RFFT, H=0.5","x":0.89,"y":14},
{"s":"RFFT, H=0.8","x":0,"y":0.55},{"s":"RFFT, H=0.8","x":0.1,"y":0.57},{"s":"RFFT, H=0.8","x":0.2,"y":0.6},{"s":"RFFT, H=0.8","x":0.3,"y":0.65},{"s":"RFFT, H=0.8","x":0.4,"y":0.71},{"s":"RFFT, H=0.8","x":0.5,"y":0.82},{"s":"RFFT, H=0.8","x":0.6,"y":1.54},{"s":"RFFT, H=0.8","x":0.7,"y":5.9},
{"s":"RPHY, H=0.5","x":0,"y":0.26},{"s":"RPHY, H=0.5","x":0.1,"y":0.26},{"s":"RPHY, H=0.5","x":0.2,"y":0.26},{"s":"RPHY, H=0.5","x":0.3,"y":0.265},{"s":"RPHY, H=0.5","x":0.4,"y":0.27},{"s":"RPHY, H=0.5","x":0.5,"y":0.27},{"s":"RPHY, H=0.5","x":0.6,"y":0.275},{"s":"RPHY, H=0.5","x":0.7,"y":0.28},{"s":"RPHY, H=0.5","x":0.8,"y":0.3},{"s":"RPHY, H=0.5","x":0.81,"y":0.31},{"s":"RPHY, H=0.5","x":0.82,"y":0.315},{"s":"RPHY, H=0.5","x":0.83,"y":0.32},{"s":"RPHY, H=0.5","x":0.84,"y":0.33},{"s":"RPHY, H=0.5","x":0.85,"y":0.34},{"s":"RPHY, H=0.5","x":0.86,"y":0.35},{"s":"RPHY, H=0.5","x":0.87,"y":0.365},{"s":"RPHY, H=0.5","x":0.88,"y":0.38},{"s":"RPHY, H=0.5","x":0.89,"y":0.4},{"s":"RPHY, H=0.5","x":0.9,"y":0.43},{"s":"RPHY, H=0.5","x":0.91,"y":0.47},{"s":"RPHY, H=0.5","x":0.92,"y":0.52},{"s":"RPHY, H=0.5","x":0.93,"y":2.25},{"s":"RPHY, H=0.5","x":0.94,"y":14},
{"s":"RPHY, H=0.8","x":0,"y":0.55},{"s":"RPHY, H=0.8","x":0.1,"y":0.56},{"s":"RPHY, H=0.8","x":0.2,"y":0.585},{"s":"RPHY, H=0.8","x":0.3,"y":0.62},{"s":"RPHY, H=0.8","x":0.4,"y":0.64},{"s":"RPHY, H=0.8","x":0.5,"y":0.73},{"s":"RPHY, H=0.8","x":0.6,"y":1.2},{"s":"RPHY, H=0.8","x":0.7,"y":2.23},{"s":"RPHY, H=0.8","x":0.8,"y":6.5}
]
},
"concat": [
{
  "width": 484, "height": 255,
  "title": {"text": "(a) DOCSIS Delay (end-to-end), ρc = 0.2"},
  "data": {"name": "A"},
  "encoding": {
    "x": {"field": "x", "type": "quantitative", "scale": {"domain": [0.005, 1], "nice": false, "zero": false}, "axis": null},
    "y": {"field": "y", "type": "quantitative", "scale": {"domain": [0, 60], "nice": false}, "axis": null},
    "color": {"field": "s", "type": "nominal", "scale": {"domain": ["RFFT, H=0.8, 50KM","RFFT, H=0.8, 10KM","RFFT, H=0.5, 50KM","RFFT, H=0.5, 10KM","RPHY, H=0.8, 50KM","RPHY, H=0.8, 10KM","RPHY, H=0.5, 50KM","RPHY, H=0.5, 10KM"], "range": ["#ff0000","#11dd11","#0000ff","#ffa500","#ff0000","#11dd11","#0000ff","#ffa500"]}, "legend": null}
  },
  "layer": [
    {"mark": {"type": "line", "clip": true},
     "encoding": {
       "x": {"field": "x", "type": "quantitative", "axis": {"orient": "bottom", "values": [0.1,0.2,0.3,0.4,0.5,0.6,0.7,0.8,0.9,1], "format": ".1~f", "title": "Load ρL"}},
       "y": {"field": "y", "type": "quantitative", "axis": {"orient": "left", "values": [0,10,20,30,40,50,60], "format": "d", "title": "Mean Packet Delay (ms)"}},
       "strokeDash": {"field": "s", "type": "nominal", "scale": {"domain": ["RFFT, H=0.8, 50KM","RFFT, H=0.8, 10KM","RFFT, H=0.5, 50KM","RFFT, H=0.5, 10KM","RPHY, H=0.8, 50KM","RPHY, H=0.8, 10KM","RPHY, H=0.5, 50KM","RPHY, H=0.5, 10KM"], "range": [[5,4],[5,4],[5,4],[5,4],[1,0],[1,0],[1,0],[1,0]]}, "legend": null}
     }},
    {"transform": [{"filter": {"field": "s", "equal": "RFFT, H=0.8, 50KM"}}], "mark": {"type": "point", "clip": true, "filled": false, "shape": "M-1,0H1M0,-1V1"}},
    {"transform": [{"filter": {"field": "s", "equal": "RFFT, H=0.8, 10KM"}}], "mark": {"type": "point", "clip": true, "filled": false, "shape": "M-0.8,-0.8L0.8,0.8M-0.8,0.8L0.8,-0.8"}},
    {"transform": [{"filter": {"field": "s", "equal": "RFFT, H=0.5, 50KM"}}], "mark": {"type": "point", "clip": true, "filled": false, "shape": "M-1,0H1M0,-1V1M-0.7,-0.7L0.7,0.7M-0.7,0.7L0.7,-0.7"}},
    {"transform": [{"filter": {"field": "s", "equal": "RFFT, H=0.5, 10KM"}}], "mark": {"type": "point", "clip": true, "filled": false, "shape": "square"}},
    {"transform": [{"filter": {"field": "s", "equal": "RPHY, H=0.8, 10KM"}}], "mark": {"type": "point", "clip": true, "filled": false, "shape": "circle"}},
    {"transform": [{"filter": {"field": "s", "equal": "RPHY, H=0.8, 50KM"}}], "mark": {"type": "point", "clip": true, "filled": true, "shape": "square"}},
    {"transform": [{"filter": {"field": "s", "equal": "RPHY, H=0.5, 50KM"}}], "mark": {"type": "point", "clip": true, "filled": true, "shape": "circle"}},
    {"transform": [{"filter": {"field": "s", "equal": "RPHY, H=0.5, 10KM"}}], "mark": {"type": "point", "clip": true, "filled": true, "shape": "triangle-up"}},
    {"mark": {"type": "point", "clip": true, "opacity": 0, "filled": true, "size": 144, "strokeWidth": 1.3},
     "encoding": {
       "x": {"field": "x", "type": "quantitative", "axis": {"orient": "top", "values": [0.1,0.2,0.3,0.4,0.5,0.6,0.7,0.8,0.9], "labels": false, "title": null}},
       "y": {"field": "y", "type": "quantitative", "axis": {"orient": "right", "values": [10,20,30,40,50], "labels": false, "title": null}},
       "color": {"value": null},
       "stroke": {"field": "s", "type": "nominal", "scale": {"domain": ["RFFT, H=0.8, 50KM","RPHY, H=0.8, 50KM","RFFT, H=0.8, 10KM","RPHY, H=0.8, 10KM","RFFT, H=0.5, 50KM","RPHY, H=0.5, 50KM","RFFT, H=0.5, 10KM","RPHY, H=0.5, 10KM"], "range": ["#ff0000","#ff0000","#11dd11","#11dd11","#0000ff","#0000ff","#ffa500","#ffa500"]}, "legend": {"title": null, "orient": "top-left", "columns": 2, "offset": 8, "padding": 0, "symbolSize": 144, "symbolStrokeWidth": 1.3, "labelOffset": 43, "rowPadding": 3, "columnPadding": 8}},
       "fill": {"field": "s", "type": "nominal", "scale": {"domain": ["RFFT, H=0.8, 50KM","RPHY, H=0.8, 50KM","RFFT, H=0.8, 10KM","RPHY, H=0.8, 10KM","RFFT, H=0.5, 50KM","RPHY, H=0.5, 50KM","RFFT, H=0.5, 10KM","RPHY, H=0.5, 10KM"], "range": ["transparent","#ff0000","transparent","transparent","transparent","#0000ff","transparent","#ffa500"]}, "legend": {"title": null, "orient": "top-left", "columns": 2, "offset": 8, "padding": 0, "symbolSize": 144, "symbolStrokeWidth": 1.3, "labelOffset": 43, "rowPadding": 3, "columnPadding": 8}},
       "shape": {"field": "s", "type": "nominal", "scale": {"domain": ["RFFT, H=0.8, 50KM","RPHY, H=0.8, 50KM","RFFT, H=0.8, 10KM","RPHY, H=0.8, 10KM","RFFT, H=0.5, 50KM","RPHY, H=0.5, 50KM","RFFT, H=0.5, 10KM","RPHY, H=0.5, 10KM"], "range": ["M0.17,0H0.97M1.57,0H2.37M2.97,0H4.03M4.63,0H5.43M6.03,0H6.83M3.5,-0.6V0.6","M0.17,0H6.83M2.95,-0.55H4.05V0.55H2.95Z","M0.17,0H0.97M1.57,0H2.37M2.97,0H4.03M4.63,0H5.43M6.03,0H6.83M3,-0.5L4,0.5M3,0.5L4,-0.5","M0.17,0H6.83M4.05,0A0.55,0.55 0 1,1 2.95,0A0.55,0.55 0 1,1 4.05,0Z","M0.17,0H0.97M1.57,0H2.37M2.97,0H4.03M4.63,0H5.43M6.03,0H6.83M3.5,-0.6V0.6M3.08,-0.42L3.92,0.42M3.08,0.42L3.92,-0.42","M0.17,0H6.83M4.05,0A0.55,0.55 0 1,1 2.95,0A0.55,0.55 0 1,1 4.05,0Z","M0.17,0H0.97M1.57,0H2.37M2.97,0H4.03M4.63,0H5.43M6.03,0H6.83M2.95,-0.55H4.05V0.55H2.95Z","M0.17,0H6.83M3.5,-0.6L4.1,0.45H2.9Z"]}, "legend": {"title": null, "orient": "top-left", "columns": 2, "offset": 8, "padding": 0, "symbolSize": 144, "symbolStrokeWidth": 1.3, "labelOffset": 43, "rowPadding": 3, "columnPadding": 8}}
     }}
  ],
  "resolve": {"axis": {"x": "independent", "y": "independent"}}
},
{
  "width": 477, "height": 255,
  "title": {"text": "(b) LTE Delay (fronthaul), ρc = 0.2, H = 0.5"},
  "data": {"name": "B"},
  "encoding": {
    "x": {"field": "x", "type": "quantitative", "scale": {"domain": [0, 1], "nice": false, "zero": false}, "axis": null},
    "y": {"field": "y", "type": "quantitative", "scale": {"domain": [0, 4], "nice": false}, "axis": null},
    "color": {"field": "s", "type": "nominal", "scale": {"domain": ["RPHY, 50KM","RPHY, 10KM","RFFT, 50KM","RFFT, 10KM"], "range": ["#ffa500","#ff0000","#ffa500","#ff0000"]}, "legend": null}
  },
  "layer": [
    {"mark": {"type": "line", "clip": true},
     "encoding": {
       "x": {"field": "x", "type": "quantitative", "axis": {"orient": "bottom", "values": [0.1,0.2,0.3,0.4,0.5,0.6,0.7,0.8,0.9,1], "format": ".1~f", "title": "Load ρL"}},
       "y": {"field": "y", "type": "quantitative", "axis": {"orient": "left", "values": [0,0.5,1,1.5,2,2.5,3,3.5,4], "format": ".1~f", "title": "Mean Packet Delay (ms)", "titlePadding": 3}},
       "strokeDash": {"field": "s", "type": "nominal", "scale": {"domain": ["RPHY, 50KM","RPHY, 10KM","RFFT, 50KM","RFFT, 10KM"], "range": [[1,0],[1,0],[5,4],[5,4]]}, "legend": null}
     }},
    {"transform": [{"filter": {"field": "s", "equal": "RFFT, 10KM"}}], "mark": {"type": "point", "clip": true, "filled": false, "shape": "M-1,0H1M0,-1V1"}},
    {"transform": [{"filter": {"field": "s", "equal": "RFFT, 50KM"}}], "mark": {"type": "point", "clip": true, "filled": false, "shape": "M-0.8,-0.8L0.8,0.8M-0.8,0.8L0.8,-0.8"}},
    {"transform": [{"filter": {"field": "s", "equal": "RPHY, 10KM"}}], "mark": {"type": "point", "clip": true, "filled": false, "shape": "M-1,0H1M0,-1V1M-0.7,-0.7L0.7,0.7M-0.7,0.7L0.7,-0.7"}},
    {"transform": [{"filter": {"field": "s", "equal": "RPHY, 50KM"}}], "mark": {"type": "point", "clip": true, "filled": false, "shape": "square"}},
    {"mark": {"type": "point", "clip": true, "opacity": 0, "filled": true, "size": 144, "strokeWidth": 1.3},
     "encoding": {
       "x": {"field": "x", "type": "quantitative", "axis": {"orient": "top", "values": [0.1,0.2,0.3,0.4,0.5,0.6,0.7,0.8,0.9], "labels": false, "title": null}},
       "y": {"field": "y", "type": "quantitative", "axis": {"orient": "right", "values": [0.5,1,1.5,2,2.5,3,3.5], "labels": false, "title": null}},
       "color": {"value": null},
       "stroke": {"field": "s", "type": "nominal", "scale": {"domain": ["RFFT, 10KM","RFFT, 50KM","RPHY, 10KM","RPHY, 50KM"], "range": ["#ff0000","#ffa500","#ff0000","#ffa500"]}, "legend": {"title": null, "orient": "top-left", "columns": 1, "offset": 8, "padding": 0, "symbolSize": 144, "symbolStrokeWidth": 1.3, "labelOffset": 43, "rowPadding": 3}},
       "fill": {"field": "s", "type": "nominal", "scale": {"domain": ["RFFT, 10KM","RFFT, 50KM","RPHY, 10KM","RPHY, 50KM"], "range": ["transparent","transparent","transparent","transparent"]}, "legend": {"title": null, "orient": "top-left", "columns": 1, "offset": 8, "padding": 0, "symbolSize": 144, "symbolStrokeWidth": 1.3, "labelOffset": 43, "rowPadding": 3}},
       "shape": {"field": "s", "type": "nominal", "scale": {"domain": ["RFFT, 10KM","RFFT, 50KM","RPHY, 10KM","RPHY, 50KM"], "range": ["M0.17,0H0.97M1.57,0H2.37M2.97,0H4.03M4.63,0H5.43M6.03,0H6.83M3.5,-0.6V0.6","M0.17,0H0.97M1.57,0H2.37M2.97,0H4.03M4.63,0H5.43M6.03,0H6.83M3,-0.5L4,0.5M3,0.5L4,-0.5","M0.17,0H6.83M3.5,-0.6V0.6M3.08,-0.42L3.92,0.42M3.08,0.42L3.92,-0.42","M0.17,0H6.83M2.95,-0.55H4.05V0.55H2.95Z"]}, "legend": {"title": null, "orient": "top-left", "columns": 1, "offset": 8, "padding": 0, "symbolSize": 144, "symbolStrokeWidth": 1.3, "labelOffset": 43, "rowPadding": 3}}
     }}
  ],
  "resolve": {"axis": {"x": "independent", "y": "independent"}}
},
{
  "width": 484, "height": 255,
  "title": {"text": "(c) DOCSIS Delay (end-to-end), ρc = 0.6"},
  "data": {"name": "C"},
  "encoding": {
    "x": {"field": "x", "type": "quantitative", "scale": {"domain": [0.005, 1], "nice": false, "zero": false}, "axis": null},
    "y": {"field": "y", "type": "quantitative", "scale": {"domain": [0, 60], "nice": false}, "axis": null},
    "color": {"field": "s", "type": "nominal", "scale": {"domain": ["RFFT, H=0.8, 50KM","RFFT, H=0.8, 10KM","RFFT, H=0.5, 50KM","RFFT, H=0.5, 10KM","RPHY, H=0.5, 10KM","RPHY, H=0.8, 10KM","RPHY, H=0.5, 50KM","RPHY, H=0.8, 50KM"], "range": ["#11dd11","#0000ff","#ffa500","#ff0000","#ff0000","#0000ff","#ffa500","#11dd11"]}, "legend": null}
  },
  "layer": [
    {"mark": {"type": "line", "clip": true},
     "encoding": {
       "x": {"field": "x", "type": "quantitative", "axis": {"orient": "bottom", "values": [0.1,0.2,0.3,0.4,0.5,0.6,0.7,0.8,0.9,1], "format": ".1~f", "title": "Load ρL"}},
       "y": {"field": "y", "type": "quantitative", "axis": {"orient": "left", "values": [0,10,20,30,40,50,60], "format": "d", "title": "Mean Packet Delay (ms)"}},
       "strokeDash": {"field": "s", "type": "nominal", "scale": {"domain": ["RFFT, H=0.8, 50KM","RFFT, H=0.8, 10KM","RFFT, H=0.5, 50KM","RFFT, H=0.5, 10KM","RPHY, H=0.5, 10KM","RPHY, H=0.8, 10KM","RPHY, H=0.5, 50KM","RPHY, H=0.8, 50KM"], "range": [[5,4],[5,4],[5,4],[5,4],[1,0],[1,0],[1,0],[1,0]]}, "legend": null}
     }},
    {"transform": [{"filter": {"field": "s", "equal": "RFFT, H=0.8, 50KM"}}], "mark": {"type": "point", "clip": true, "filled": false, "shape": "M-1,0H1M0,-1V1"}},
    {"transform": [{"filter": {"field": "s", "equal": "RFFT, H=0.8, 10KM"}}], "mark": {"type": "point", "clip": true, "filled": false, "shape": "M-0.8,-0.8L0.8,0.8M-0.8,0.8L0.8,-0.8"}},
    {"transform": [{"filter": {"field": "s", "equal": "RFFT, H=0.5, 50KM"}}], "mark": {"type": "point", "clip": true, "filled": false, "shape": "M-1,0H1M0,-1V1M-0.7,-0.7L0.7,0.7M-0.7,0.7L0.7,-0.7"}},
    {"transform": [{"filter": {"field": "s", "equal": "RFFT, H=0.5, 10KM"}}], "mark": {"type": "point", "clip": true, "filled": false, "shape": "square"}},
    {"transform": [{"filter": {"field": "s", "equal": "RPHY, H=0.8, 10KM"}}], "mark": {"type": "point", "clip": true, "filled": false, "shape": "circle"}},
    {"transform": [{"filter": {"field": "s", "equal": "RPHY, H=0.5, 10KM"}}], "mark": {"type": "point", "clip": true, "filled": true, "shape": "square"}},
    {"transform": [{"filter": {"field": "s", "equal": "RPHY, H=0.5, 50KM"}}], "mark": {"type": "point", "clip": true, "filled": true, "shape": "circle"}},
    {"transform": [{"filter": {"field": "s", "equal": "RPHY, H=0.8, 50KM"}}], "mark": {"type": "point", "clip": true, "filled": true, "shape": "triangle-up"}},
    {"mark": {"type": "point", "clip": true, "opacity": 0, "filled": true, "size": 144, "strokeWidth": 1.3},
     "encoding": {
       "x": {"field": "x", "type": "quantitative", "axis": {"orient": "top", "values": [0.1,0.2,0.3,0.4,0.5,0.6,0.7,0.8,0.9], "labels": false, "title": null}},
       "y": {"field": "y", "type": "quantitative", "axis": {"orient": "right", "values": [10,20,30,40,50], "labels": false, "title": null}},
       "color": {"value": null},
       "stroke": {"field": "s", "type": "nominal", "scale": {"domain": ["RFFT, H=0.8, 50KM","RPHY, H=0.5, 10KM","RFFT, H=0.8, 10KM","RPHY, H=0.8, 10KM","RFFT, H=0.5, 50KM","RPHY, H=0.5, 50KM","RFFT, H=0.5, 10KM","RPHY, H=0.8, 50KM"], "range": ["#11dd11","#ff0000","#0000ff","#0000ff","#ffa500","#ffa500","#ff0000","#11dd11"]}, "legend": {"title": null, "orient": "top-left", "columns": 2, "offset": 8, "padding": 0, "symbolSize": 144, "symbolStrokeWidth": 1.3, "labelOffset": 43, "rowPadding": 3, "columnPadding": 8}},
       "fill": {"field": "s", "type": "nominal", "scale": {"domain": ["RFFT, H=0.8, 50KM","RPHY, H=0.5, 10KM","RFFT, H=0.8, 10KM","RPHY, H=0.8, 10KM","RFFT, H=0.5, 50KM","RPHY, H=0.5, 50KM","RFFT, H=0.5, 10KM","RPHY, H=0.8, 50KM"], "range": ["transparent","#ff0000","transparent","transparent","transparent","#ffa500","transparent","#11dd11"]}, "legend": {"title": null, "orient": "top-left", "columns": 2, "offset": 8, "padding": 0, "symbolSize": 144, "symbolStrokeWidth": 1.3, "labelOffset": 43, "rowPadding": 3, "columnPadding": 8}},
       "shape": {"field": "s", "type": "nominal", "scale": {"domain": ["RFFT, H=0.8, 50KM","RPHY, H=0.5, 10KM","RFFT, H=0.8, 10KM","RPHY, H=0.8, 10KM","RFFT, H=0.5, 50KM","RPHY, H=0.5, 50KM","RFFT, H=0.5, 10KM","RPHY, H=0.8, 50KM"], "range": ["M0.17,0H0.97M1.57,0H2.37M2.97,0H4.03M4.63,0H5.43M6.03,0H6.83M3.5,-0.6V0.6","M0.17,0H6.83M2.95,-0.55H4.05V0.55H2.95Z","M0.17,0H0.97M1.57,0H2.37M2.97,0H4.03M4.63,0H5.43M6.03,0H6.83M3,-0.5L4,0.5M3,0.5L4,-0.5","M0.17,0H6.83M4.05,0A0.55,0.55 0 1,1 2.95,0A0.55,0.55 0 1,1 4.05,0Z","M0.17,0H0.97M1.57,0H2.37M2.97,0H4.03M4.63,0H5.43M6.03,0H6.83M3.5,-0.6V0.6M3.08,-0.42L3.92,0.42M3.08,0.42L3.92,-0.42","M0.17,0H6.83M4.05,0A0.55,0.55 0 1,1 2.95,0A0.55,0.55 0 1,1 4.05,0Z","M0.17,0H0.97M1.57,0H2.37M2.97,0H4.03M4.63,0H5.43M6.03,0H6.83M2.95,-0.55H4.05V0.55H2.95Z","M0.17,0H6.83M3.5,-0.6L4.1,0.45H2.9Z"]}, "legend": {"title": null, "orient": "top-left", "columns": 2, "offset": 8, "padding": 0, "symbolSize": 144, "symbolStrokeWidth": 1.3, "labelOffset": 43, "rowPadding": 3, "columnPadding": 8}}
     }}
  ],
  "resolve": {"axis": {"x": "independent", "y": "independent"}}
},
{
  "width": 477, "height": 255,
  "title": {"text": "(d) LTE Delay (fronthaul), ρc = 0.6, d = 50 km"},
  "data": {"name": "D"},
  "encoding": {
    "x": {"field": "x", "type": "quantitative", "scale": {"domain": [0, 1], "nice": false, "zero": false}, "axis": null},
    "y": {"field": "y", "type": "quantitative", "scale": {"domain": [0, 4], "nice": false}, "axis": null},
    "color": {"field": "s", "type": "nominal", "scale": {"domain": ["RPHY, H=0.8","RPHY, H=0.5","RFFT, H=0.8","RFFT, H=0.5"], "range": ["#11dd11","#ffa500","#11dd11","#ffa500"]}, "legend": null}
  },
  "layer": [
    {"mark": {"type": "line", "clip": true},
     "encoding": {
       "x": {"field": "x", "type": "quantitative", "axis": {"orient": "bottom", "values": [0.1,0.2,0.3,0.4,0.5,0.6,0.7,0.8,0.9,1], "format": ".1~f", "title": "Load ρL"}},
       "y": {"field": "y", "type": "quantitative", "axis": {"orient": "left", "values": [0,0.5,1,1.5,2,2.5,3,3.5,4], "format": ".1~f", "title": "Mean Packet Delay (ms)", "titlePadding": 3}},
       "strokeDash": {"field": "s", "type": "nominal", "scale": {"domain": ["RPHY, H=0.8","RPHY, H=0.5","RFFT, H=0.8","RFFT, H=0.5"], "range": [[1,0],[1,0],[5,4],[5,4]]}, "legend": null}
     }},
    {"transform": [{"filter": {"field": "s", "equal": "RFFT, H=0.5"}}], "mark": {"type": "point", "clip": true, "filled": false, "shape": "M-1,0H1M0,-1V1"}},
    {"transform": [{"filter": {"field": "s", "equal": "RFFT, H=0.8"}}], "mark": {"type": "point", "clip": true, "filled": false, "shape": "M-0.8,-0.8L0.8,0.8M-0.8,0.8L0.8,-0.8"}},
    {"transform": [{"filter": {"field": "s", "equal": "RPHY, H=0.5"}}], "mark": {"type": "point", "clip": true, "filled": false, "shape": "M-1,0H1M0,-1V1M-0.7,-0.7L0.7,0.7M-0.7,0.7L0.7,-0.7"}},
    {"transform": [{"filter": {"field": "s", "equal": "RPHY, H=0.8"}}], "mark": {"type": "point", "clip": true, "filled": false, "shape": "square"}},
    {"mark": {"type": "point", "clip": true, "opacity": 0, "filled": true, "size": 144, "strokeWidth": 1.3},
     "encoding": {
       "x": {"field": "x", "type": "quantitative", "axis": {"orient": "top", "values": [0.1,0.2,0.3,0.4,0.5,0.6,0.7,0.8,0.9], "labels": false, "title": null}},
       "y": {"field": "y", "type": "quantitative", "axis": {"orient": "right", "values": [0.5,1,1.5,2,2.5,3,3.5], "labels": false, "title": null}},
       "color": {"value": null},
       "stroke": {"field": "s", "type": "nominal", "scale": {"domain": ["RFFT, H=0.5","RFFT, H=0.8","RPHY, H=0.5","RPHY, H=0.8"], "range": ["#ffa500","#11dd11","#ffa500","#11dd11"]}, "legend": {"title": null, "orient": "top-left", "columns": 1, "offset": 8, "padding": 0, "symbolSize": 144, "symbolStrokeWidth": 1.3, "labelOffset": 43, "rowPadding": 3}},
       "fill": {"field": "s", "type": "nominal", "scale": {"domain": ["RFFT, H=0.5","RFFT, H=0.8","RPHY, H=0.5","RPHY, H=0.8"], "range": ["transparent","transparent","transparent","transparent"]}, "legend": {"title": null, "orient": "top-left", "columns": 1, "offset": 8, "padding": 0, "symbolSize": 144, "symbolStrokeWidth": 1.3, "labelOffset": 43, "rowPadding": 3}},
       "shape": {"field": "s", "type": "nominal", "scale": {"domain": ["RFFT, H=0.5","RFFT, H=0.8","RPHY, H=0.5","RPHY, H=0.8"], "range": ["M0.17,0H0.97M1.57,0H2.37M2.97,0H4.03M4.63,0H5.43M6.03,0H6.83M3.5,-0.6V0.6","M0.17,0H0.97M1.57,0H2.37M2.97,0H4.03M4.63,0H5.43M6.03,0H6.83M3,-0.5L4,0.5M3,0.5L4,-0.5","M0.17,0H6.83M3.5,-0.6V0.6M3.08,-0.42L3.92,0.42M3.08,0.42L3.92,-0.42","M0.17,0H6.83M2.95,-0.55H4.05V0.55H2.95Z"]}, "legend": {"title": null, "orient": "top-left", "columns": 1, "offset": 8, "padding": 0, "symbolSize": 144, "symbolStrokeWidth": 1.3, "labelOffset": 43, "rowPadding": 3}}
     }}
  ],
  "resolve": {"axis": {"x": "independent", "y": "independent"}}
}
]
}
